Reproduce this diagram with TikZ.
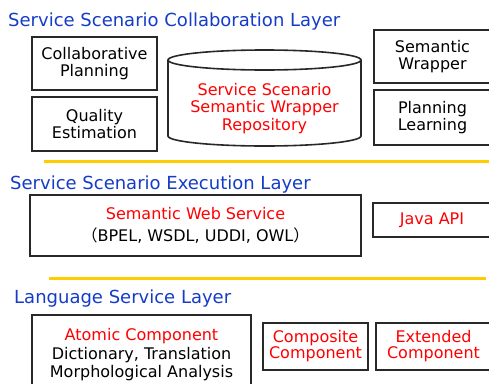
\documentclass[tikz,border=0pt]{standalone}
\usepackage{fontspec}
\setmainfont{DejaVu Sans}
\newfontfamily\cjk{Noto Sans CJK JP}
\usepackage{tikz}
\definecolor{layerblue}{RGB}{20,60,200}
\definecolor{namered}{RGB}{255,0,0}
\definecolor{ruleyellow}{RGB}{255,204,0}
\definecolor{boxgray}{RGB}{40,40,40}

\tikzset{
  layer/.style={anchor=base west, inner sep=0pt, text=layerblue, font=\fontsize{18}{20}\selectfont},
  box/.style={draw=boxgray, line width=1.6pt, align=center, inner sep=0pt, font=\fontsize{16}{17.5}\selectfont},
  tag/.style={box, text=namered},
  rule/.style={ruleyellow, line width=3pt}
}

\begin{document}
\begin{tikzpicture}[x=1pt, y=-1pt]
\useasboundingbox (0,0) rectangle (489,383);

% collaboration layer
\node[layer] (collabtitle) at (8,26) {Service Scenario Collaboration Layer};
\node[box, minimum width=125, minimum height=53] (collab) at (94.5,63.5) {Collaborative\\Planning};
\node[box, minimum width=125, minimum height=54] (quality) at (94.5,124) {Quality\\Estimation};
\draw[boxgray, line width=1.6pt] (168,60) -- (168,136) arc[start angle=180, end angle=0, x radius=96.5, y radius=10] -- (361,60);
\draw[boxgray, line width=1.6pt] (264.5,60) ellipse[x radius=96.5, y radius=10];
\node[align=center, text=namered, font=\fontsize{16}{17.5}\selectfont] (repo) at (264.5,108.5)
  {Service Scenario\\Semantic Wrapper\\Repository};
\node[box, minimum width=117, minimum height=53] (wrapper) at (432.5,56.5) {Semantic\\Wrapper};
\node[box, minimum width=117, minimum height=55] (learning) at (432.5,117.5) {Planning\\Learning};

\draw[rule] (44,161) -- (489,161);

% execution layer
\node[layer] (exectitle) at (10,189) {Service Scenario Execution Layer};
\node[box, minimum width=331, minimum height=61] (sws) at (195.5,225.5)
  {\textcolor{namered}{Semantic Web Service}\\[5pt]{\cjk （}BPEL, WSDL, UDDI, OWL{\cjk ）}};
\node[tag, minimum width=118, minimum height=34] (java) at (432,220) {Java API};

\draw[rule] (49,278) -- (486,278);

% language service layer
\node[layer] (langtitle) at (14,303) {Language Service Layer};
\node[box, anchor=north, minimum width=219, inner ysep=14pt, font=\fontsize{16}{18.5}\selectfont] (atomic) at (141.5,314)
  {\textcolor{namered}{Atomic Component}\\Dictionary, Translation\\Morphological Analysis};
\node[tag, minimum width=105, minimum height=47, font=\fontsize{16}{16}\selectfont] (composite) at (315.5,346.5) {Composite\\Component};
\node[tag, minimum width=115, minimum height=47, font=\fontsize{16}{16}\selectfont] (extended) at (433.5,346.5) {Extended\\Component};
\end{tikzpicture}
\end{document}
